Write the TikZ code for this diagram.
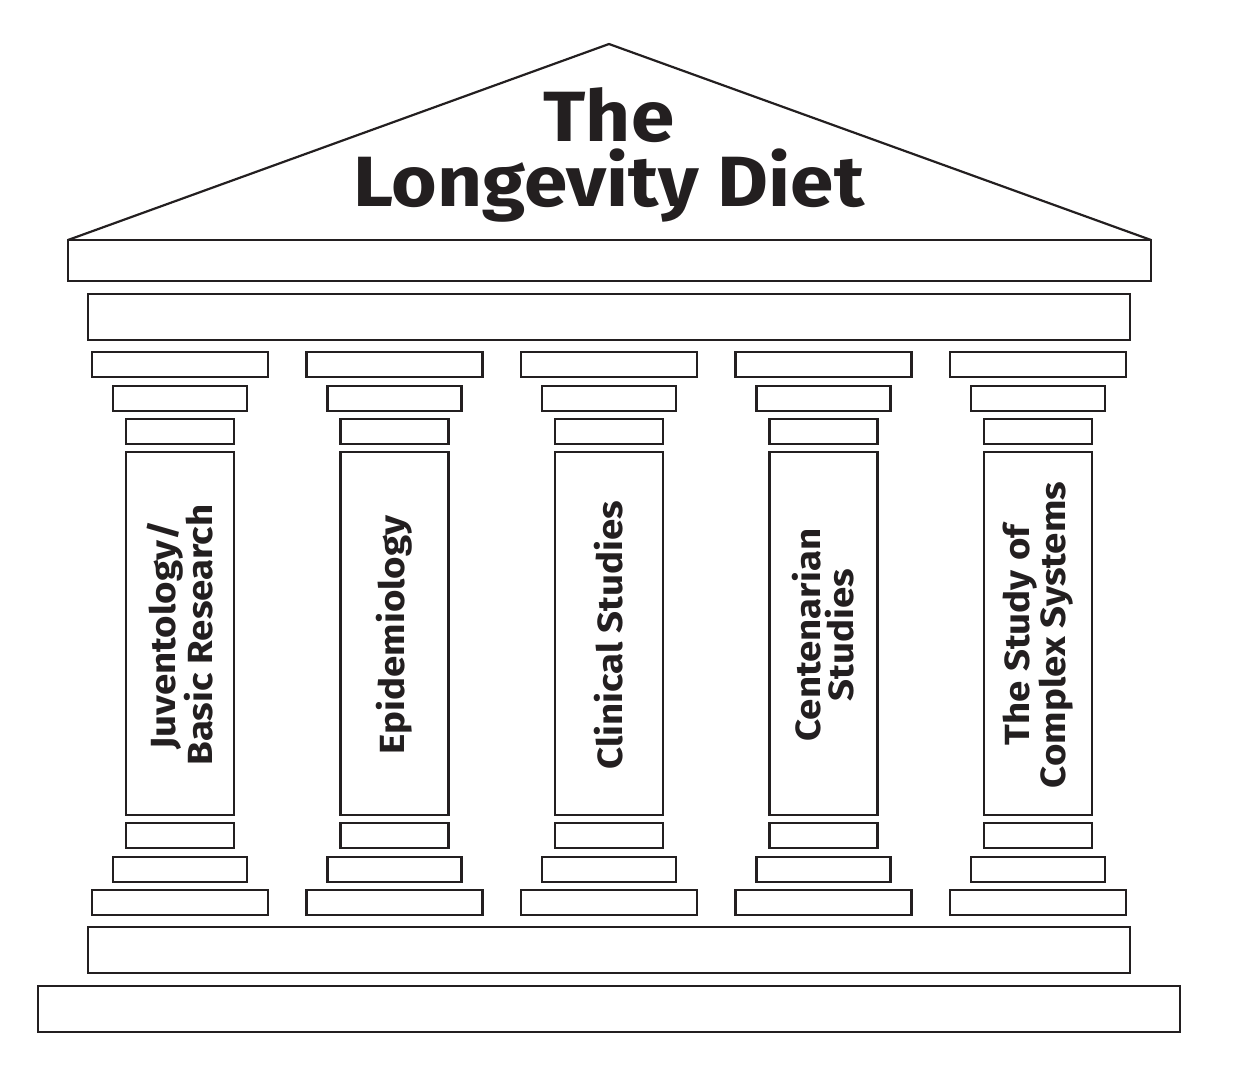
\documentclass[tikz,border=0pt]{standalone}
\usepackage{fontspec}
\setmainfont{Fira Sans}[FakeStretch=1.1]
\definecolor{ink}{HTML}{231F20}

\begin{document}
\begin{tikzpicture}[x=0.02cm, y=-0.02cm, line width=1.25pt, draw=ink, text=ink,
		titletext/.style={align=center, font=\bfseries\fontsize{40.5}{37.4}\selectfont},
		pillartext/.style={rotate=90, align=center, font=\bfseries\fontsize{19.9}{18.7}\selectfont}]
	\useasboundingbox (0,0) rectangle (1235,1065);
	\draw (68,240) -- (609,44) -- (1151,240);
	\draw (68,240) rectangle (1151,281);
	\draw (88,294) rectangle (1130,340);
	\node[titletext] (title) at (609,155) {The\\Longevity Diet};
	\foreach \txt [count=\i from 0] in {{Juventology/\\Basic Research}, {Epidemiology}, {Clinical Studies}, {Centenarian\\Studies}, {The Study of\\Complex Systems}} {
		\pgfmathsetmacro{\c}{180+214.5*\i}
		\draw ({\c-88},352) rectangle ({\c+88},377);
		\draw ({\c-67},386) rectangle ({\c+67},411);
		\draw ({\c-54},419) rectangle ({\c+54},444);
		\draw ({\c-54},452) rectangle ({\c+54},815);
		\draw ({\c-54},823) rectangle ({\c+54},848);
		\draw ({\c-67},857) rectangle ({\c+67},882);
		\draw ({\c-88},890) rectangle ({\c+88},915);
		\node[pillartext] (pillar\i) at (\c,635) {\txt};
	}
	\draw (88,927) rectangle (1130,973);
	\draw (38,986) rectangle (1180,1032);
\end{tikzpicture}
\end{document}
